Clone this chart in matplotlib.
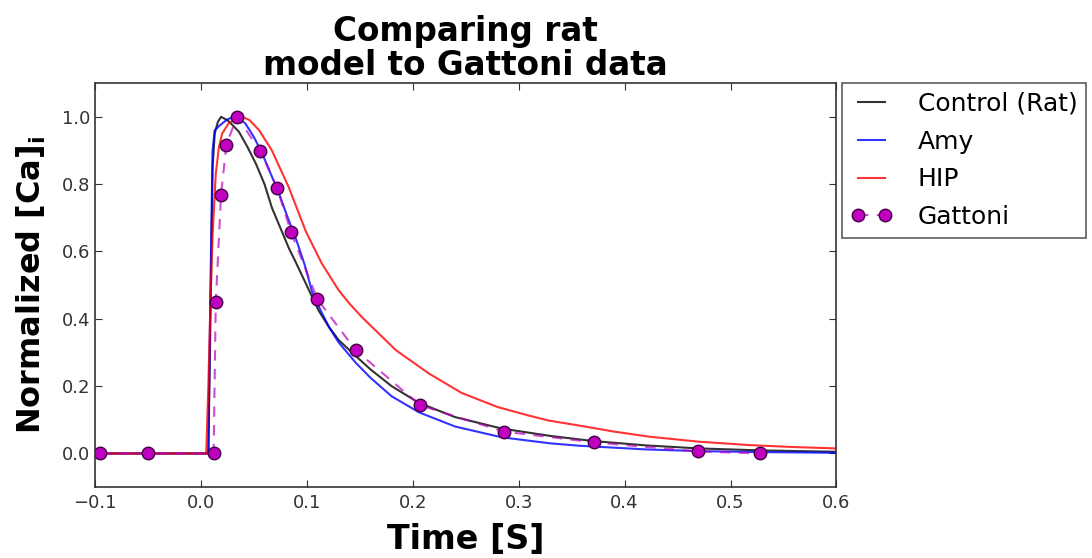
import matplotlib
matplotlib.use('Agg')
import matplotlib.pyplot as plt

# values
ctrl_t = [-0.1, 0.007, 0.009, 0.011, 0.013, 0.016, 0.019, 0.025, 0.030, 0.036, 0.044,
          0.052, 0.060, 0.067, 0.075, 0.083, 0.090, 0.099, 0.111, 0.121, 0.130, 0.146,
          0.160, 0.180, 0.206, 0.240, 0.284, 0.330, 0.370, 0.420, 0.470, 0.530, 0.600]
ctrl_y = [0.0, 0.0, 0.40, 0.85, 0.95, 0.985, 1.0, 0.99, 0.975, 0.955, 0.91,
          0.86, 0.80, 0.73, 0.67, 0.61, 0.565, 0.505, 0.425, 0.375, 0.337, 0.29,
          0.25, 0.20, 0.150, 0.108, 0.074, 0.052, 0.037, 0.024, 0.015, 0.009, 0.005]

amy_t = [-0.1, 0.007, 0.009, 0.011, 0.013, 0.018, 0.024, 0.030, 0.036, 0.042, 0.050,
         0.058, 0.066, 0.074, 0.082, 0.090, 0.098, 0.105, 0.113, 0.121, 0.130, 0.146,
         0.160, 0.180, 0.206, 0.240, 0.284, 0.330, 0.357, 0.420, 0.470, 0.530, 0.600]
amy_y = [0.0, 0.0, 0.50, 0.90, 0.96, 0.975, 0.99, 1.0, 0.995, 0.98, 0.94,
         0.89, 0.83, 0.77, 0.70, 0.635, 0.56, 0.48, 0.425, 0.375, 0.33, 0.27,
         0.225, 0.17, 0.122, 0.080, 0.048, 0.030, 0.023, 0.012, 0.007, 0.004, 0.002]

hip_t = [-0.1, 0.005, 0.007, 0.009, 0.011, 0.014, 0.017, 0.020, 0.026, 0.033, 0.039,
         0.046, 0.055, 0.067, 0.083, 0.099, 0.114, 0.130, 0.140, 0.152, 0.184, 0.215,
         0.246, 0.280, 0.309, 0.328, 0.357, 0.390, 0.423, 0.470, 0.517, 0.560, 0.600]
hip_y = [0.0, 0.0, 0.20, 0.45, 0.65, 0.83, 0.91, 0.95, 0.98, 0.995, 1.0,
         0.99, 0.96, 0.90, 0.79, 0.66, 0.565, 0.485, 0.446, 0.405, 0.307, 0.238,
         0.180, 0.138, 0.113, 0.098, 0.083, 0.065, 0.050, 0.035, 0.025, 0.019, 0.015]

gat_t = [-0.095, -0.05, 0.012, 0.014, 0.019, 0.024, 0.034, 0.056, 0.072, 0.085,
         0.110, 0.146, 0.207, 0.286, 0.371, 0.469, 0.528]
gat_y = [0.0, 0.0, 0.0, 0.449, 0.768, 0.917, 1.0, 0.899, 0.789, 0.658,
         0.458, 0.307, 0.143, 0.065, 0.033, 0.006, 0.0]

fig = plt.figure(figsize=(10.92, 5.58), dpi=100)
ax = fig.add_axes([0.087, 0.127, 0.679, 0.724])

ax.plot(ctrl_t, ctrl_y, color='k', alpha=0.8, lw=1.5, label='Control (Rat)')
ax.plot(amy_t, amy_y, color='b', alpha=0.8, lw=1.5, label='Amy')
ax.plot(hip_t, hip_y, color='r', alpha=0.8, lw=1.5, label='HIP')
ax.plot(gat_t, gat_y, ls='--', dashes=(5, 4), lw=1.5, color=(0.75, 0.0, 0.75, 0.7),
        marker='o', ms=9, markerfacecolor=(0.75, 0.0, 0.75, 1.0),
        markeredgecolor='#440044', label='Gattoni')

ax.set_xlim(-0.1, 0.6)
ax.set_ylim(-0.1, 1.1)
ax.set_xticks([-0.1, 0.0, 0.1, 0.2, 0.3, 0.4, 0.5, 0.6])
ax.set_yticks([0.0, 0.2, 0.4, 0.6, 0.8, 1.0])
ax.tick_params(direction='in', top=True, right=True, length=5, labelsize=13,
               colors='#333333')
ax.tick_params(axis='x', pad=5)
for s in ax.spines.values():
    s.set_linewidth(1.2)
    s.set_color('#333333')

ax.set_xlabel('Time [S]', fontsize=24, fontweight='bold', labelpad=8)
ax.set_ylabel('Normalized [Ca]$_\\mathbf{i}$', fontsize=23, fontweight='bold',
              labelpad=10)
ax.set_title('Comparing rat\nmodel to Gattoni data', fontsize=23.5, fontweight='bold',
             linespacing=1.05, pad=6)

leg = ax.legend(loc='upper left', bbox_to_anchor=(1.007, 1.0), numpoints=2,
                fontsize=18, fancybox=False, borderaxespad=0.0, handlelength=1.7,
                handletextpad=1.0, labelspacing=0.55, borderpad=0.35)
leg.get_frame().set_edgecolor('#333333')
leg.get_frame().set_linewidth(1.2)

plt.savefig('out.png', dpi=100)
